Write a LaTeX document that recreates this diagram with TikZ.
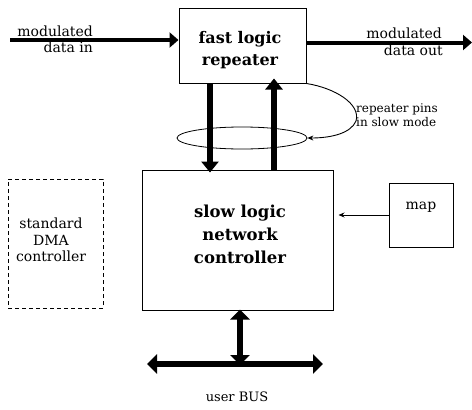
\documentclass[tikz,border=0pt]{standalone}
\usepackage{fontspec}
\setmainfont{DejaVu Serif}
\usetikzlibrary{arrows.meta,shapes.geometric}

\tikzset{
  block/.style={draw, line width=1pt, inner sep=0pt},
  dashblock/.style={draw, line width=1pt, dash pattern=on 4pt off 3pt, inner sep=0pt},
  bigtxt/.style={font=\fontsize{16}{22}\selectfont\bfseries, align=center, inner sep=0pt},
  txt/.style={font=\fontsize{14}{16.5}\selectfont, inner sep=0pt},
  smalltxt/.style={font=\fontsize{12}{14}\selectfont, align=left, inner sep=0pt},
  dataline/.style={line width=4pt, -{Triangle[length=9pt,width=15pt]}},
  fatline/.style={line width=6pt, -{Triangle[length=11pt,width=17pt]}},
  busline/.style={line width=6pt, {Triangle[length=10pt,width=19pt]}-{Triangle[length=10pt,width=19pt]}},
  thinarrow/.style={line width=0.9pt, -{Stealth[length=6pt,width=5pt]}},
}

\begin{document}
\begin{tikzpicture}[x=1pt, y=-1pt]
\useasboundingbox (0,0) rectangle (472,410);

% boxes
\node[block, minimum width=127pt, minimum height=75pt] (rep) at (242.5,45.5) {};
\node[bigtxt] (reptxt) at (240,50) {fast logic\\repeater};

\node[block, minimum width=191pt, minimum height=140pt] (slow) at (237.5,240) {};
\node[bigtxt, font=\fontsize{16.5}{23}\selectfont\bfseries] (slowtxt) at (240,234) {slow logic\\network\\controller};

\node[dashblock, minimum width=95pt, minimum height=129pt] (dma) at (55.5,243.5) {};
\node[txt, align=center] (dmatxt) at (51,240) {standard\\DMA\\controller};

\node[block, minimum width=64pt, minimum height=64pt] (map) at (421,215) {};
\node[txt] (maptxt) at (421,207) {map};

% repeater pins loop
\node[ellipse, draw, line width=0.8pt, minimum width=130pt, minimum height=22pt, inner sep=0pt] (loop) at (242,138) {};

% data in / out
\coordinate (din) at (10,40);
\coordinate (dout) at (472,42.5);
\draw[dataline] (din) -- (din -| rep.west);
\draw[dataline] (rep.east |- dout) -- (dout);
\node[txt, anchor=base east] (modin) at (93,36.5) {modulated};
\node[txt, anchor=base east] (datain) at (93,52.5) {data in};
\node[txt, anchor=base east] (modout) at (442,38.5) {modulated};
\node[txt, anchor=base east] (dataout) at (443,55) {data out};

% repeater <-> slow controller
\coordinate (dn) at (210,0);
\coordinate (up) at (274,0);
\draw[fatline] (dn |- rep.south) -- ([yshift=-3pt]dn |- slow.north);
\draw[fatline] (up |- slow.north) -- ([yshift=5pt]up |- rep.south);

% annotation curve
\draw[thinarrow] (rep.south east) .. controls (335,88) and (361,104) .. (356,121)
  .. controls (351,133) and (332,138) .. (loop.east);
\node[smalltxt, anchor=north west] (pins) at (356,103) {repeater pins\\in slow mode};

% map -> controller
\draw[thinarrow, shorten >=5pt] (map.west) -- (slow.east |- map.west);

% user bus
\coordinate (busL) at (147,364);
\coordinate (busR) at (323,364);
\coordinate (busT) at (240,0);
\draw[busline] (busL) -- (busR);
\draw[busline] ([yshift=1pt]busT |- slow.south) -- ([yshift=-1pt]busT |- busL);
\node[txt, font=\fontsize{13}{15}\selectfont] (bus) at (237,397) {user BUS};
\end{tikzpicture}
\end{document}
